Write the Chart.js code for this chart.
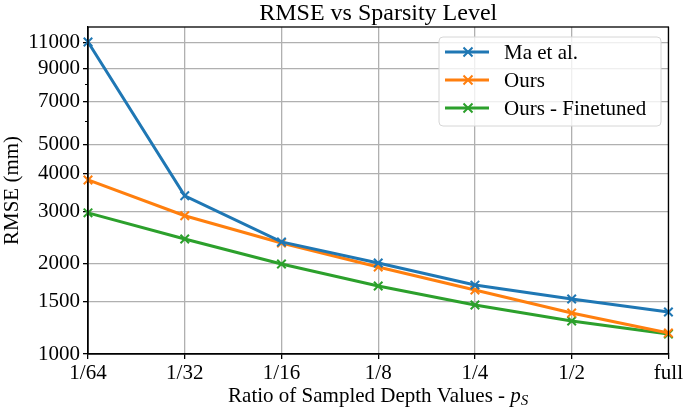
<!DOCTYPE html>
<html>
<head>
<meta charset="utf-8">
<script src="https://cdn.jsdelivr.net/npm/chart.js@4"></script>
<style>
  html, body { margin: 0; padding: 0; background: #fff; }
  #wrap { width: 685px; height: 408px; }
</style>
</head>
<body>
<div id="wrap"><canvas id="rmseChart" width="685" height="408"></canvas></div>
<script>
// data
const ratios = ['1/64', '1/32', '1/16', '1/8', '1/4', '1/2', 'full'];
const maEtAl = [11050, 3380, 2370, 2015, 1700, 1527, 1381];
const ours = [3820, 2900, 2350, 1955, 1637, 1371, 1175];
const oursFinetuned = [2965, 2425, 2000, 1688, 1459, 1290, 1166];
const yTicks = [1000, 1500, 2000, 3000, 4000, 5000, 7000, 9000, 11000];
const yMinorTicks = [6000, 8000];

const FONT = '"Liberation Serif", "DejaVu Serif", serif';

// title, frame, minor ticks, x title and the in-plot legend
const decorations = {
    id: 'decorations',
    afterDraw(chart) {
        const ctx = chart.ctx;
        const area = chart.chartArea;
        const yScale = chart.scales.y;
        ctx.save();

        ctx.fillStyle = '#000';
        ctx.font = '24px ' + FONT;
        ctx.textAlign = 'center';
        ctx.textBaseline = 'alphabetic';
        ctx.fillText('RMSE vs Sparsity Level', (area.left + area.right) / 2, 20);

        // x axis title with italic p_S
        const base = 'Ratio of Sampled Depth Values - ';
        ctx.font = '21px ' + FONT;
        const w1 = ctx.measureText(base).width;
        ctx.font = 'italic 21px ' + FONT;
        const wp = ctx.measureText('p').width;
        ctx.font = 'italic 15px ' + FONT;
        const ws = ctx.measureText('S').width;
        let x = (area.left + area.right) / 2 - (w1 + wp + ws) / 2;
        const yb = 402;
        ctx.textAlign = 'left';
        ctx.font = '21px ' + FONT;
        ctx.fillText(base, x, yb);
        x += w1;
        ctx.font = 'italic 21px ' + FONT;
        ctx.fillText('p', x, yb);
        x += wp;
        ctx.font = 'italic 15px ' + FONT;
        ctx.fillText('S', x, yb + 3);

        // frame
        ctx.strokeStyle = '#000';
        ctx.lineWidth = 1.3;
        ctx.strokeRect(area.left, area.top, area.right - area.left, area.bottom - area.top);

        // minor ticks
        ctx.lineWidth = 1;
        yMinorTicks.forEach((v) => {
            const py = Math.round(yScale.getPixelForValue(v)) + 0.5;
            ctx.beginPath();
            ctx.moveTo(area.left - 3, py);
            ctx.lineTo(area.left, py);
            ctx.stroke();
        });

        // legend
        const lx = 439, ly = 37, lw = 222, lh = 89;
        ctx.beginPath();
        ctx.roundRect(lx, ly, lw, lh, 4);
        ctx.fillStyle = 'rgba(255,255,255,0.8)';
        ctx.fill();
        ctx.strokeStyle = '#d6d6d6';
        ctx.lineWidth = 1;
        ctx.stroke();
        chart.data.datasets.forEach((ds, i) => {
            const cy = ly + 15 + i * 28;
            ctx.strokeStyle = ds.borderColor;
            ctx.lineWidth = 3;
            ctx.beginPath();
            ctx.moveTo(lx + 6, cy);
            ctx.lineTo(lx + 50, cy);
            ctx.stroke();
            ctx.lineWidth = 2;
            const cx = lx + 29, r = 4.5;
            ctx.beginPath();
            ctx.moveTo(cx - r, cy - r);
            ctx.lineTo(cx + r, cy + r);
            ctx.moveTo(cx - r, cy + r);
            ctx.lineTo(cx + r, cy - r);
            ctx.stroke();
            ctx.fillStyle = '#000';
            ctx.font = '21px ' + FONT;
            ctx.textBaseline = 'middle';
            ctx.textAlign = 'left';
            ctx.fillText(ds.label, lx + 65, cy + 1);
        });
        ctx.restore();
    },
};

function lineSet(label, values, color) {
    return {
        label: label,
        data: values,
        borderColor: color,
        backgroundColor: color,
        borderWidth: 3,
        pointStyle: 'crossRot',
        pointRadius: 6,
        pointBorderWidth: 2,
        tension: 0,
        clip: false,
    };
}

new Chart(document.getElementById('rmseChart').getContext('2d'), {
    type: 'line',
    data: {
        labels: ratios,
        datasets: [
            lineSet('Ma et al.', maEtAl, '#1f77b4'),
            lineSet('Ours', ours, '#ff7f0e'),
            lineSet('Ours - Finetuned', oursFinetuned, '#2ca02c'),
        ],
    },
    options: {
        responsive: false,
        animation: false,
        layout: { padding: { top: 27, right: 14, left: 0, bottom: 0 } },
        plugins: {
            legend: { display: false },
            title: { display: false },
            tooltip: { enabled: false },
        },
        scales: {
            x: {
                type: 'category',
                offset: false,
                afterFit: (scale) => { scale.height = 54; },
                grid: { color: '#b0b0b0', lineWidth: 1.3, tickLength: 5, tickColor: '#000' },
                border: { color: '#000', width: 1.3 },
                ticks: { color: '#000', font: { family: FONT, size: 21 }, padding: 2, maxRotation: 0 },
            },
            y: {
                type: 'logarithmic',
                min: 1000,
                max: 12400,
                afterFit: (scale) => { scale.width = 88; },
                afterBuildTicks: (scale) => {
                    scale.ticks = yTicks.map((v) => ({ value: v }));
                },
                grid: { color: '#b0b0b0', lineWidth: 1.3, tickLength: 5, tickColor: '#000' },
                border: { color: '#000', width: 1.3 },
                ticks: {
                    color: '#000',
                    font: { family: FONT, size: 21 },
                    padding: 3,
                    callback: (value) => String(value),
                },
                title: {
                    display: true,
                    text: 'RMSE (mm)',
                    color: '#000',
                    font: { family: FONT, size: 21 },
                    padding: { top: 0, bottom: 2 },
                },
            },
        },
    },
    plugins: [decorations],
});
</script>
</body>
</html>
